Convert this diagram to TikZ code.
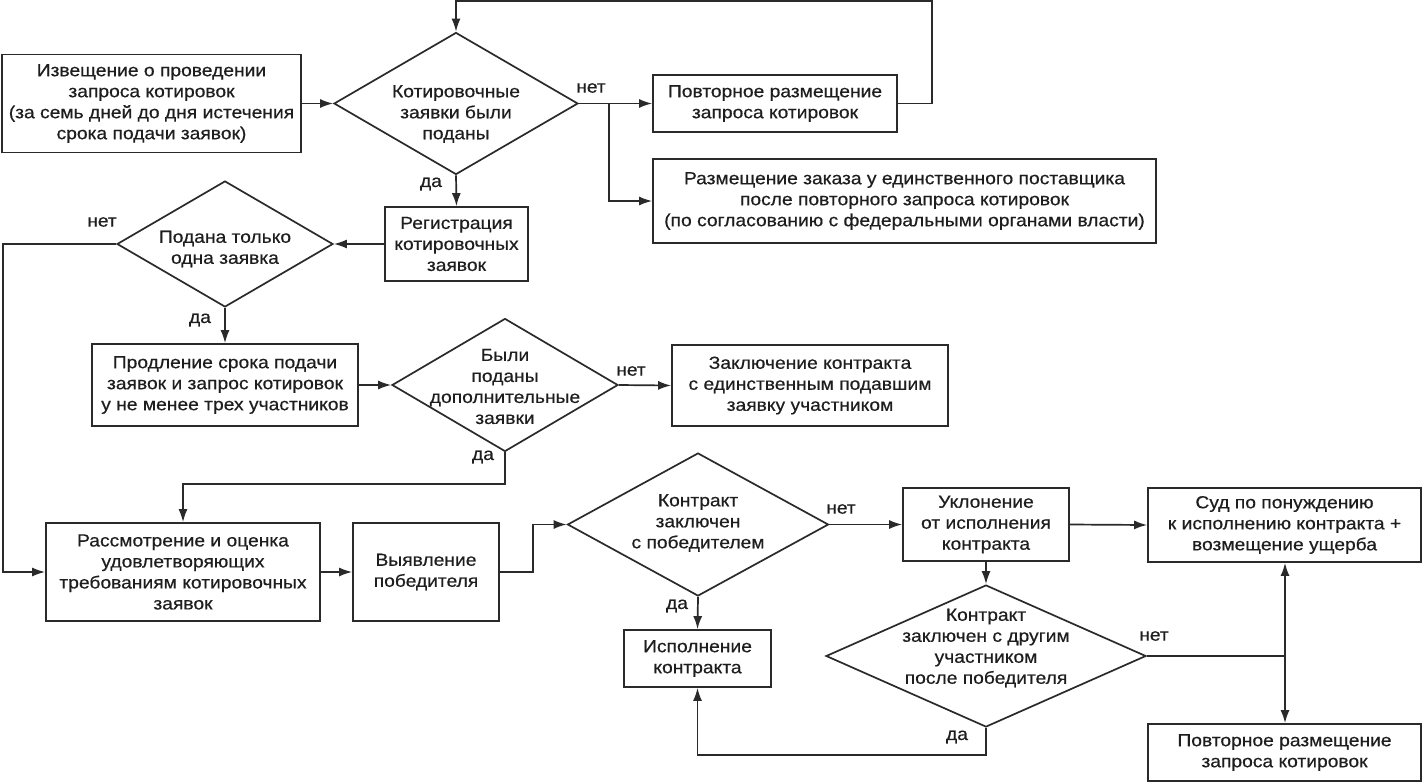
\documentclass[tikz,border=0pt]{standalone}
\usepackage{fontspec}
\setmainfont[FakeStretch=1.1,FakeBold=0.5]{Liberation Sans}
\usetikzlibrary{arrows.meta,shapes.geometric}
\definecolor{ink}{HTML}{1E1E1E}
\definecolor{ln}{HTML}{2A2A2A}
\begin{document}
\begin{tikzpicture}[x=1pt,y=-1pt,
 every node/.style={font=\fontsize{17.5}{21}\selectfont, text=ink},
 box/.style={draw=ln, line width=1.7pt, align=center, inner sep=0pt},
 dia/.style={draw=ln, line width=1.7pt, diamond, inner sep=0pt},
 txt/.style={align=center, inner sep=0pt},
 arr/.style={draw=ln, line width=1.7pt, -{Latex[length=13pt,width=9pt]}},
 con/.style={draw=ln, line width=1.7pt},
 lbl/.style={inner sep=0pt}]
\useasboundingbox (0,0) rectangle (1423,782);
\fill[white] (0,0) rectangle (1423,782);

% nodes
\node[box, minimum width=299pt, minimum height=98pt] (b1) at (151.5,103.5)
 {Извещение о проведении\\запроса котировок\\(за семь дней до дня истечения\\срока подачи заявок)};
\node[dia, minimum width=244pt, minimum height=142pt] (d1) at (456,103.5) {};
\node[txt] (d1t) at (456,114) {Котировочные\\заявки были\\поданы};
\node[box, minimum width=244pt, minimum height=57pt] (r1) at (775,103.5)
 {Повторное размещение\\запроса котировок};
\node[box, minimum width=503pt, minimum height=84pt] (r2) at (904.5,201)
 {Размещение заказа у единственного поставщика\\после повторного запроса котировок\\(по согласованию с федеральными органами власти)};
\node[box, minimum width=143pt, minimum height=74pt] (reg) at (456.5,244)
 {Регистрация\\котировочных\\заявок};
\node[dia, minimum width=216pt, minimum height=126pt] (d2) at (225,244) {};
\node[txt] (d2t) at (225,249) {Подана только\\одна заявка};
\node[box, minimum width=266pt, minimum height=82pt] (prodl) at (225,385)
 {Продление срока подачи\\заявок и запрос котировок\\у не менее трех участников};
\node[dia, minimum width=226pt, minimum height=133pt] (d3) at (505,385) {};
\node[txt] (d3t) at (505,386.5) {Были\\поданы\\дополнительные\\заявки};
\node[box, minimum width=276pt, minimum height=81pt] (zakl) at (810,385.5)
 {Заключение контракта\\с единственным подавшим\\заявку участником};
\node[box, minimum width=274pt, minimum height=98pt] (rassm) at (183,572)
 {Рассмотрение и оценка\\удовлетворяющих\\требованиям котировочных\\заявок};
\node[box, minimum width=146pt, minimum height=98pt] (vyy) at (426,572)
 {Выявление\\победителя};
\node[dia, minimum width=261pt, minimum height=143pt] (d4) at (698,524.5) {};
\node[txt] (d4t) at (698,523) {Контракт\\заключен\\с победителем};
\node[box, minimum width=147pt, minimum height=57pt] (isp) at (697.5,658.5)
 {Исполнение\\контракта};
\node[box, minimum width=166pt, minimum height=73pt] (ukl) at (986,524.5)
 {Уклонение\\от исполнения\\контракта};
\node[box, minimum width=273pt, minimum height=74pt] (sud) at (1284.5,525)
 {Суд по понуждению\\к исполнению контракта +\\возмещение ущерба};
\node[dia, minimum width=320pt, minimum height=142pt] (d5) at (986,656) {};
\node[txt] (d5t) at (986,648) {Контракт\\заключен с другим\\участником\\после победителя};
\node[box, minimum width=273pt, minimum height=57pt] (povt) at (1284.5,752.5)
 {Повторное размещение\\запроса котировок};

% helper coordinates
\coordinate (br1) at (609,103.5);
\coordinate (lt) at (932,1);
\coordinate (lft) at (3,244);
\coordinate (j3) at (505,484);
\coordinate (j4) at (533,572);
\coordinate (j5) at (1285,656);
\coordinate (j6) at (986,755);

% connectors
\draw[arr] (b1.east) -- (d1.west);
\draw[arr] (d1.east) -- (r1.west);
\draw[arr] (br1) |- (r2.west);
\draw[arr] (r1.east) -| (lt) -| (d1.north);
\draw[arr] (d1.south) -- (reg.north);
\draw[arr] (reg.west) -- (d2.east);
\draw[arr] (d2.west) -- (lft) |- (rassm.west);
\draw[arr] (d2.south) -- (prodl.north);
\draw[arr] (prodl.east) -- (d3.west);
\draw[arr] (d3.east) -- (zakl.west);
\draw[arr] (d3.south) -- (j3) -| (rassm.north);
\draw[arr] (rassm.east) -- (vyy.west);
\draw[arr] (vyy.east) -- (j4) |- (d4.west);
\draw[arr] (d4.east) -- (ukl.west);
\draw[arr] (d4.south) -- (isp.north);
\draw[arr] (ukl.east) -- (sud.west);
\draw[arr] (ukl.south) -- (d5.north);
\draw[con] (d5.east) -- (j5);
\draw[arr] (j5) -- (j5 |- sud.south);
\draw[arr] (j5) -- (j5 |- povt.north);
\draw[arr] (d5.south) -- (j6) -| (isp.south);

% labels
\node[lbl] (l1) at (591,88) {нет};
\node[lbl] (l2) at (431,184) {да};
\node[lbl] (l3) at (102,222) {нет};
\node[lbl] (l4) at (200,320) {да};
\node[lbl] (l5) at (631,371) {нет};
\node[lbl] (l6) at (483,457) {да};
\node[lbl] (l7) at (841,509) {нет};
\node[lbl] (l8) at (677,606) {да};
\node[lbl] (l9) at (1154,636) {нет};
\node[lbl] (l10) at (957,737) {да};
\end{tikzpicture}
\end{document}
